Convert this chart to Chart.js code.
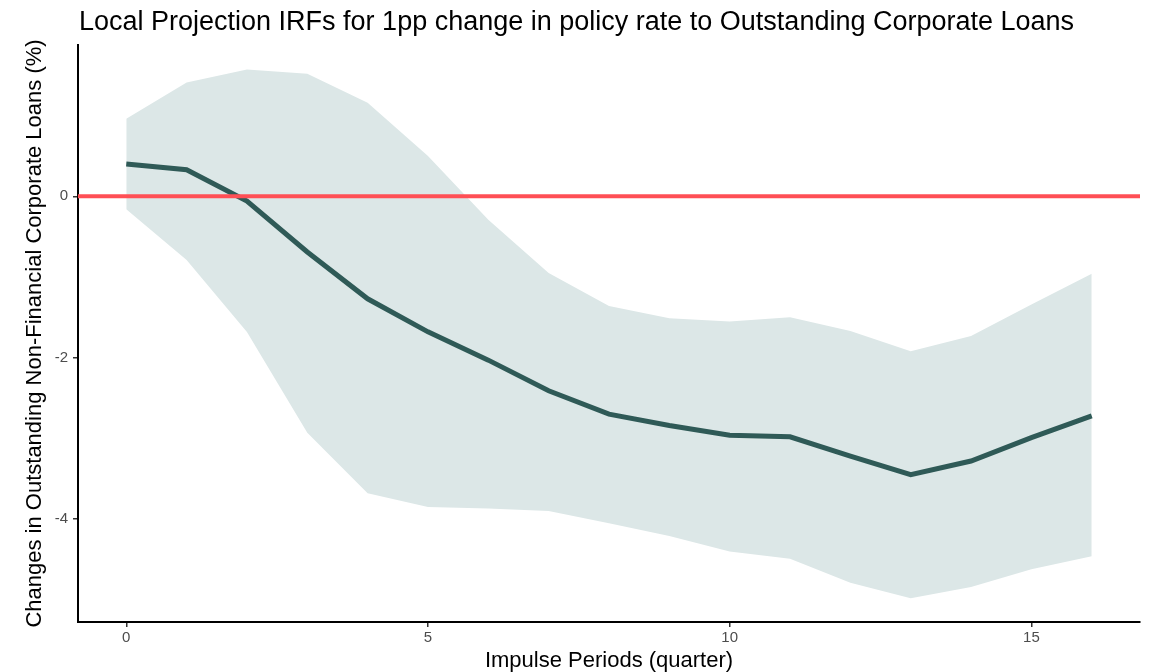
<!DOCTYPE html>
<html>
<head>
<meta charset="utf-8">
<script src="https://cdn.jsdelivr.net/npm/chart.js@4"></script>
<style>
  html, body { margin: 0; padding: 0; background: #fff; }
  #wrap { width: 1155px; height: 672px; position: relative; }
</style>
</head>
<body>
<div id="wrap"><canvas id="irfChart"></canvas></div>
<script>
// horizons (quarters)
const periods = [0, 1, 2, 3, 4, 5, 6, 7, 8, 9, 10, 11, 12, 13, 14, 15, 16];
// point estimate
const irfMean = [0.40, 0.33, -0.06, -0.69, -1.27, -1.68, -2.03, -2.41, -2.70, -2.84, -2.96, -2.98, -3.22, -3.45, -3.28, -2.99, -2.72];
// confidence band
const irfUpper = [0.96, 1.41, 1.57, 1.52, 1.16, 0.50, -0.29, -0.95, -1.36, -1.51, -1.55, -1.50, -1.67, -1.92, -1.73, -1.34, -0.96];
const irfLower = [-0.16, -0.79, -1.68, -2.93, -3.68, -3.85, -3.87, -3.90, -4.05, -4.21, -4.40, -4.49, -4.79, -4.98, -4.84, -4.62, -4.46];
const xTicks = [0, 5, 10, 15];
const yTicks = [-4, -2, 0];

const FONT = '"Liberation Sans", Arial, sans-serif';
const toPts = arr => arr.map((v, i) => ({ x: periods[i], y: v }));

// title drawn top-left, like ggplot
const titlePlugin = {
  id: 'plotTitle',
  afterDraw(chart) {
    const c = chart.ctx;
    c.save();
    c.font = '27px ' + FONT;
    c.fillStyle = '#000';
    c.textBaseline = 'alphabetic';
    c.fillText('Local Projection IRFs for 1pp change in policy rate to Outstanding Corporate Loans', 79, 30);
    c.restore();
  }
};

const ctx = document.getElementById('irfChart').getContext('2d');
new Chart(ctx, {
  type: 'line',
  data: {
    datasets: [
      {
        label: 'zero',
        data: [{ x: -0.8, y: 0 }, { x: 16.8, y: 0 }],
        borderColor: '#ff4f55',
        borderWidth: 4,
        pointRadius: 0,
        fill: false
      },
      {
        label: 'IRF',
        data: toPts(irfMean),
        borderColor: '#2f5a57',
        borderWidth: 5,
        pointRadius: 0,
        tension: 0,
        fill: false
      },
      {
        label: 'upper',
        data: toPts(irfUpper),
        borderWidth: 0,
        borderColor: 'rgba(0,0,0,0)',
        backgroundColor: '#dce7e7',
        pointRadius: 0,
        fill: '+1'
      },
      {
        label: 'lower',
        data: toPts(irfLower),
        borderWidth: 0,
        borderColor: 'rgba(0,0,0,0)',
        pointRadius: 0,
        fill: false
      }
    ]
  },
  options: {
    responsive: true,
    maintainAspectRatio: false,
    animation: false,
    layout: { padding: { top: 45, right: 15, left: 0, bottom: 0 } },
    plugins: {
      legend: { display: false },
      tooltip: { enabled: false },
      title: { display: false }
    },
    scales: {
      x: {
        type: 'linear',
        min: -0.8,
        max: 16.8,
        afterBuildTicks: s => { s.ticks = xTicks.map(v => ({ value: v })); },
        afterFit: s => { s.height = 50; },
        grid: { display: true, drawOnChartArea: false, drawTicks: true, tickLength: 5, color: '#333', lineWidth: 1.5 },
        border: { display: true, color: '#000', width: 2 },
        ticks: { color: '#4d4d4d', font: { size: 15, family: FONT }, padding: 2, maxRotation: 0 },
        title: {
          display: true,
          text: 'Impulse Periods (quarter)',
          color: '#000',
          font: { size: 22, family: FONT },
          padding: { top: 0, bottom: -2 }
        }
      },
      y: {
        type: 'linear',
        min: -5.275,
        max: 1.875,
        afterBuildTicks: s => { s.ticks = yTicks.map(v => ({ value: v })); },
        afterFit: s => { s.width = 78; },
        grid: { display: true, drawOnChartArea: false, drawTicks: true, tickLength: 5, color: '#333', lineWidth: 1.5 },
        border: { display: true, color: '#000', width: 2 },
        ticks: { color: '#4d4d4d', font: { size: 15, family: FONT }, padding: 5 },
        title: {
          display: true,
          text: 'Changes in Outstanding Non-Financial Corporate Loans (%)',
          color: '#000',
          font: { size: 22, family: FONT },
          padding: { top: 22, bottom: 0 }
        }
      }
    }
  },
  plugins: [titlePlugin]
});
</script>
</body>
</html>
